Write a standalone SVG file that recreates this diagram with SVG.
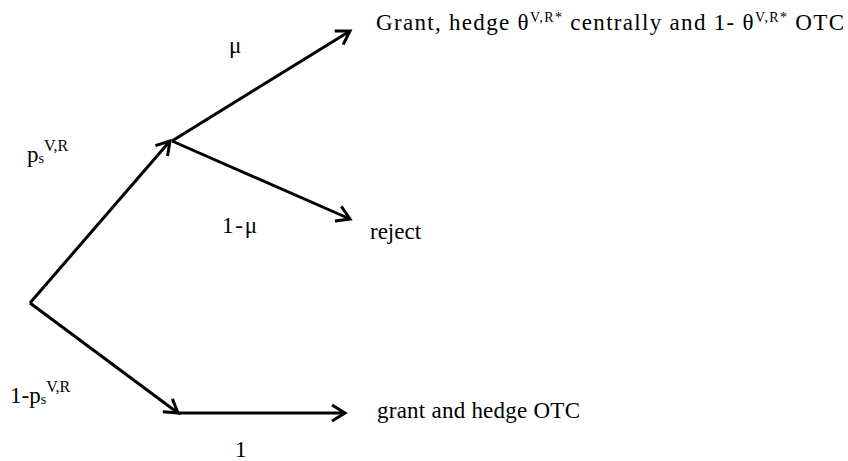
<svg xmlns="http://www.w3.org/2000/svg" width="848" height="461" viewBox="0 0 848 461">
<style>
  text { font-family: "Liberation Serif", "Times New Roman", serif; font-size: 23px; fill: #000; }
  .sup { font-size: 16px; }
  .ssup { font-size: 14px; }
  .edge { stroke: #000; stroke-width: 3; fill: none; }
</style>
<defs>
  <marker id="arr" markerUnits="userSpaceOnUse" viewBox="-16 -12 20 24" markerWidth="20" markerHeight="24" refX="0" refY="0" orient="auto">
    <path d="M-13,-8 L0,0 L-13,8" fill="none" stroke="#000" stroke-width="3" stroke-linejoin="miter"/>
  </marker>
</defs>
<rect width="848" height="461" fill="#fff"/>
<g id="connectors">
  <line class="edge" x1="30" y1="303" x2="170" y2="141" marker-end="url(#arr)"/>
  <line class="edge" x1="172" y1="141" x2="350" y2="31" marker-end="url(#arr)"/>
  <line class="edge" x1="172" y1="141" x2="350" y2="219" marker-end="url(#arr)"/>
  <line class="edge" x1="30" y1="303" x2="178" y2="413" marker-end="url(#arr)"/>
  <line class="edge" x1="178" y1="413" x2="345" y2="413" marker-end="url(#arr)"/>
</g>
<g id="node-grant-central">
  <text x="376" y="30" textLength="468" lengthAdjust="spacing">Grant, hedge θ<tspan class="ssup" dy="-8">V,R*</tspan><tspan dy="8"> centrally and 1- θ</tspan><tspan class="ssup" dy="-8">V,R*</tspan><tspan dy="8"> OTC</tspan></text>
</g>
<g id="node-reject">
  <text x="370" y="239">reject</text>
</g>
<g id="node-grant-otc">
  <text x="377" y="418" textLength="203" lengthAdjust="spacing">grant and hedge OTC</text>
</g>
<g id="labels">
  <text x="229" y="53">μ</text>
  <text x="27" y="162">p<tspan class="ssup" dy="1">s</tspan><tspan class="sup" dy="-12">V,R</tspan></text>
  <text x="222" y="233" textLength="35" lengthAdjust="spacing">1-μ</text>
  <text x="10" y="403">1-p<tspan class="ssup" dy="1">s</tspan><tspan class="sup" dy="-12">V,R</tspan></text>
  <text x="235" y="457">1</text>
</g>
</svg>
